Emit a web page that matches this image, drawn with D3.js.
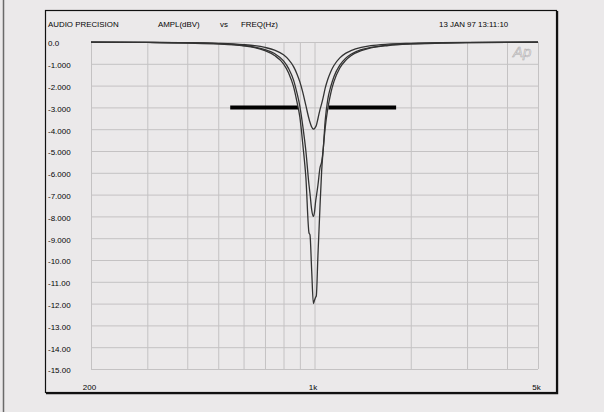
<!DOCTYPE html>
<html>
<head>
<meta charset="utf-8">
<script src="https://cdn.jsdelivr.net/npm/d3@7"></script>
<style>
	body { margin: 0; background: #ebe9ea; }
	svg text { font-family: "Liberation Sans", Arial, sans-serif; fill: #050505; }
</style>
</head>
<body>
<svg id="chart" width="604" height="412"></svg>
<script>
// sweep points (Hz) shared by the three notch settings
var freqHz = [200, 300, 400, 500, 600, 650, 700, 750, 800, 830, 860, 880, 900, 920, 940, 961, 968, 980, 992,
	1000, 1009, 1013, 1025, 1040, 1053, 1065, 1080, 1100, 1125, 1150, 1200, 1250, 1300, 1400, 1500, 1700,
	2000, 2500, 3000, 4000, 5000];

// amplitude in dBV
var notch4 = [-0.01, -0.02, -0.03, -0.06, -0.12, -0.17, -0.25, -0.37, -0.59, -0.81, -1.13, -1.44, -1.83, -2.33, -2.92,
	-3.52, -3.68, -3.90, -4.00, -3.97, -3.88, -3.83, -3.52, -3.11, -2.83, -2.53, -2.12, -1.72, -1.35, -1.08, -0.73,
	-0.52, -0.40, -0.25, -0.17, -0.10, -0.06, -0.03, -0.02, -0.01, -0.01];
var notch8 = [-0.01, -0.02, -0.04, -0.08, -0.16, -0.23, -0.35, -0.53, -0.87, -1.22, -1.75, -2.30, -2.95, -3.90, -5.01,
	-6.55, -6.95, -7.70, -8.00, -7.80, -7.27, -7.10, -6.57, -5.78, -5.50, -4.90, -3.60, -2.64, -2.03, -1.59, -1.06,
	-0.75, -0.56, -0.35, -0.25, -0.14, -0.08, -0.04, -0.03, -0.02, -0.01];
var notch12 = [-0.01, -0.02, -0.05, -0.09, -0.18, -0.26, -0.40, -0.62, -1.00, -1.42, -2.05, -2.70, -3.45, -4.75, -6.24,
	-8.75, -8.85, -10.50, -12.00, -11.85, -11.70, -11.65, -9.80, -7.60, -5.90, -4.90, -3.94, -3.07, -2.33, -1.82, -1.19,
	-0.85, -0.63, -0.40, -0.27, -0.16, -0.09, -0.05, -0.03, -0.02, -0.01];

// -3 dB reference bar, broken where the sweeps cut through it
var bandStartHz = [545, 1106];
var bandEndHz = [888, 1800];
var bandLevel = -3;

var yTickValues = [0, -1, -2, -3, -4, -5, -6, -7, -8, -9, -10, -11, -12, -13, -14, -15];
var yTickLabels = ["0.0", "-1.000", "-2.000", "-3.000", "-4.000", "-5.000", "-6.000", "-7.000", "-8.000",
	"-9.000", "-10.00", "-11.00", "-12.00", "-13.00", "-14.00", "-15.00"];
var xGridHz = [200, 300, 400, 500, 600, 700, 800, 900, 1000, 2000, 3000, 4000, 5000];
var xTickValues = [200, 1000, 5000];
var xTickLabels = ["200", "1k", "5k"];

var svg = d3.select("#chart");

var x = d3.scaleLog()
	.domain([200, 5000])
	.range([91, 538]);

var y = d3.scaleLinear()
	.domain([0, -15])
	.range([42, 369]);

// outer page edge
svg.append("line")
	.attr("x1", 3.5).attr("x2", 3.5)
	.attr("y1", 0).attr("y2", 412)
	.attr("stroke", "#6a6a6a")
	.attr("stroke-width", 1.5);

// instrument frame, heavier on right and bottom
svg.append("rect")
	.attr("x", 45.5).attr("y", 10.5)
	.attr("width", 511).attr("height", 382)
	.attr("fill", "none")
	.attr("stroke", "#111")
	.attr("stroke-width", 1.2);
svg.append("path")
	.attr("d", "M557.5,11V393.5H46")
	.attr("fill", "none")
	.attr("stroke", "#111")
	.attr("stroke-width", 1.4);

// grid
svg.append("g")
	.attr("class", "grid y")
	.attr("transform", "translate(91,0)")
	.call(d3.axisLeft(y).tickValues(yTickValues).tickSize(-447).tickFormat(""))
	.call((g) => g.select(".domain").remove())
	.selectAll("line")
	.attr("stroke", "#c4c2c3");

svg.append("g")
	.attr("class", "grid x")
	.attr("transform", "translate(0,369)")
	.call(d3.axisBottom(x).tickValues(xGridHz).tickSize(-327).tickFormat(""))
	.call((g) => g.select(".domain").remove())
	.selectAll("line")
	.attr("stroke", "#c4c2c3");

// axis labels
var yAxis = svg.append("g")
	.attr("transform", "translate(48,0)")
	.call(d3.axisLeft(y).tickValues(yTickValues).tickSize(0).tickPadding(0)
		.tickFormat((d, i) => yTickLabels[i]));
yAxis.select(".domain").remove();
yAxis.selectAll("text")
	.attr("x", 0)
	.attr("dy", "0.48em")
	.attr("text-anchor", "start")
	.style("font-size", "8px");

var xAxis = svg.append("g")
	.attr("transform", "translate(-2,381)")
	.call(d3.axisBottom(x).tickValues(xTickValues).tickSize(0).tickPadding(3)
		.tickFormat((d, i) => xTickLabels[i]));
xAxis.select(".domain").remove();
xAxis.selectAll("text")
	.style("font-size", "8px");

// header
var header = svg.append("g")
	.style("font-size", "7.9px");
header.append("text").attr("x", 48).attr("y", 27.3).text("AUDIO PRECISION");
header.append("text").attr("x", 158).attr("y", 27.3).text("AMPL(dBV)");
header.append("text").attr("x", 220).attr("y", 27.3).text("vs");
header.append("text").attr("x", 241).attr("y", 27.3).text("FREQ(Hz)");
header.append("text").attr("x", 439).attr("y", 27.3).text("13  JAN 97  13:11:10");

// Ap logo
svg.append("text")
	.attr("x", 513)
	.attr("y", 56.5)
	.style("font-size", "15px")
	.style("font-style", "italic")
	.style("font-weight", "300")
	.style("fill", "none")
	.attr("stroke", "#aeacad")
	.attr("stroke-width", 0.55)
	.text("Ap");

// -3 dB bar
svg.append("g")
	.attr("class", "band")
	.selectAll("line")
	.data(bandStartHz)
	.enter()
	.append("line")
	.attr("x1", (d) => x(d))
	.attr("x2", (d, i) => x(bandEndHz[i]))
	.attr("y1", y(bandLevel))
	.attr("y2", y(bandLevel))
	.attr("stroke", "#000")
	.attr("stroke-width", 4);

// sweeps
var line = d3.line()
	.x((d) => x(d[0]))
	.y((d) => y(d[1]))
	.curve(d3.curveMonotoneX);

var series = [notch4, notch8, notch12];

svg.append("g")
	.attr("class", "sweeps")
	.selectAll("path")
	.data(series)
	.enter()
	.append("path")
	.attr("d", (s) => line(freqHz.map((f, i) => [f, s[i]])))
	.attr("fill", "none")
	.attr("stroke", "#333")
	.attr("stroke-width", 1.3);
</script>
</body>
</html>
